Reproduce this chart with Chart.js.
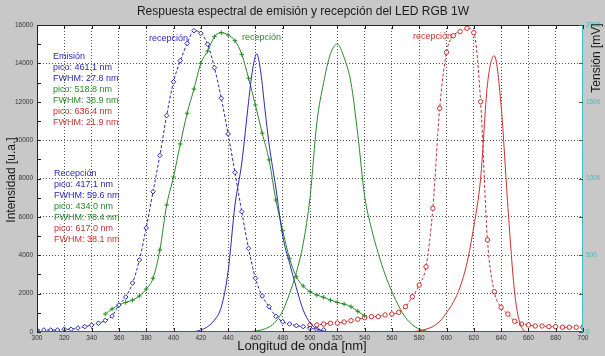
<!DOCTYPE html>
<html>
<head>
<meta charset="utf-8">
<script src="https://cdn.jsdelivr.net/npm/chart.js@4.4.1/dist/chart.umd.min.js"></script>
<style>
html, body { margin: 0; padding: 0; background: #c8c8c8; }
</style>
</head>
<body>
<canvas id="grafico" width="605" height="356"></canvas>
<script>
// --- datos ---
// recepcion: tension en mV (eje derecho)
var azulRecNm = [300,305,310,315,320,325,330,335,340,345,350,355,360,365,370,375,380,385,390,395,400,405,410,415,420,425,430,435,440,445,450,455,460,465,470,475,480,485,490,495,500,505,510];
var azulRecMv = [13,13,13,13,18,18,26,35,45,57,75,104,176,228,319,469,678,914,1150,1410,1630,1768,1880,1963,1946,1875,1722,1523,1290,1040,784,545,350,235,165,102,67,52,41,35,24,18,14];

var verdeRecNm = [350,355,360,365,370,375,380,385,390,395,400,405,410,415,420,425,430,435,440,445,450,455,460,465,470,475,480,485,490,495,500,505,510,515,520,525,530,535,540];
var verdeRecMv = [117,150,176,193,208,235,280,350,534,827,1010,1225,1425,1583,1750,1830,1924,1950,1935,1898,1809,1653,1479,1295,1121,860,660,480,360,300,263,241,226,208,193,182,165,135,106];

var rojoRecNm = [500,505,510,515,520,525,530,535,540,545,550,555,560,565,570,575,580,585,590,595,600,605,610,615,620,625,630,635,640,645,650,655,660,665,670,675,680,685,690,695,700];
var rojoRecMv = [46,46,52,57,58,65,74,83,93,100,100,111,117,128,165,230,306,425,806,1457,1822,1930,1957,1979,1950,1500,600,263,161,117,70,52,46,39,39,35,35,31,31,31,31];

// emision: intensidad u.a. (eje izquierdo)
var azulEmiNm = [300,410,415,420,425,430,435,440,445,450,455,458,461,464,467,470,475,480,485,490,495,500,505,510,520,700];
var azulEmiVal = [0,0,20,100,280,620,1300,3150,6600,8800,12000,13700,14500,13500,11600,9800,7500,5000,3600,2300,1150,480,160,50,0,0];

var verdeEmiNm = [300,450,460,465,470,475,480,485,490,495,500,505,510,515,520,525,530,535,540,545,550,555,560,565,570,575,580,585,590,700];
var verdeEmiVal = [0,0,50,120,260,550,1100,2000,3100,4600,7000,10900,13000,14500,15000,14300,13000,10300,7100,5400,4100,3000,2100,1350,750,380,150,50,0,0];

var rojoEmiNm = [300,570,580,585,590,595,600,605,610,615,620,625,630,635,640,645,650,655,660,700];
var rojoEmiVal = [0,0,60,150,280,550,1000,1550,2350,3600,5500,8000,12900,14400,11800,6500,2000,250,0,0];

var tituloGraf = 'Respuesta espectral de emisión y recepción del LED RGB 1W';

var AZUL = '#2a2ab4';
var VERDE = '#2a8a2a';
var ROJO = '#cc3030';
var CIAN = '#3cbcbc';

function pares(xs, ys) {
    return xs.map(function (x, i) { return {x: x, y: ys[i]}; });
}

function sinComa(v) {
    return String(v);
}

// textos dentro del grafico
var notas = [
    {t: 'Emisión', c: AZUL, x: 53, y: 57},
    {t: 'pico: 461.1 nm', c: AZUL, x: 53, y: 68},
    {t: 'FWHM: 27.8 nm', c: AZUL, x: 53, y: 79},
    {t: 'pico: 518.8 nm', c: VERDE, x: 53, y: 90},
    {t: 'FWHM: 38.9 nm', c: VERDE, x: 53, y: 101},
    {t: 'pico: 636.4 nm', c: ROJO, x: 53, y: 112},
    {t: 'FWHM: 21.9 nm', c: ROJO, x: 53, y: 123},
    {t: 'Recepción', c: AZUL, x: 54, y: 174},
    {t: 'pico: 417.1 nm', c: AZUL, x: 54, y: 185},
    {t: 'FWHM: 59.6 nm', c: AZUL, x: 54, y: 196},
    {t: 'pico: 434.0 nm', c: VERDE, x: 54, y: 207},
    {t: 'FWHM: 78.4 nm', c: VERDE, x: 54, y: 218},
    {t: 'pico: 617.0 nm', c: ROJO, x: 54, y: 229},
    {t: 'FWHM: 38.1 nm', c: ROJO, x: 54, y: 240},
    {t: 'recepción', c: AZUL, x: 149, y: 39},
    {t: 'recepción', c: VERDE, x: 242, y: 38},
    {t: 'recepción', c: ROJO, x: 413, y: 37}
];

var decorado = {
    id: 'decorado',
    beforeDraw: function (chart) {
        var ctx = chart.ctx, a = chart.chartArea;
        ctx.save();
        ctx.fillStyle = '#c8c8c8';
        ctx.fillRect(0, 0, chart.width, chart.height);
        ctx.fillStyle = '#ffffff';
        ctx.fillRect(a.left, a.top, a.right - a.left, a.bottom - a.top);
        ctx.restore();
    },
    afterDatasetsDraw: function (chart) {
        var ctx = chart.ctx, a = chart.chartArea;
        var sx = chart.scales.x, sy = chart.scales.y, sy1 = chart.scales.y1;
        ctx.save();
        // marco
        ctx.lineWidth = 1;
        ctx.strokeStyle = '#222';
        ctx.beginPath();
        ctx.moveTo(a.left + 0.5, a.bottom);
        ctx.lineTo(a.left + 0.5, a.top + 0.5);
        ctx.lineTo(a.right, a.top + 0.5);
        ctx.stroke();
        ctx.strokeStyle = '#b03030';
        ctx.beginPath();
        ctx.moveTo(a.left, a.bottom - 0.5);
        ctx.lineTo(a.right, a.bottom - 0.5);
        ctx.stroke();
        ctx.strokeStyle = CIAN;
        ctx.beginPath();
        ctx.moveTo(a.right - 0.5, a.top);
        ctx.lineTo(a.right - 0.5, a.bottom);
        ctx.stroke();
        // marcas de ticks
        ctx.strokeStyle = '#222';
        ctx.beginPath();
        sx.ticks.forEach(function (t) {
            var px = Math.round(sx.getPixelForValue(t.value)) + 0.5;
            ctx.moveTo(px, a.top); ctx.lineTo(px, a.top + 4);
            ctx.moveTo(px, a.bottom); ctx.lineTo(px, a.bottom - 4);
        });
        for (var v = 0; v <= 16000; v += 1000) {
            var py = Math.round(sy.getPixelForValue(v)) + 0.5;
            ctx.moveTo(a.left, py); ctx.lineTo(a.left + 4, py);
        }
        ctx.stroke();
        ctx.strokeStyle = '#555';
        ctx.beginPath();
        for (var m = 0; m <= 2000; m += 250) {
            var pm = Math.round(sy1.getPixelForValue(m)) + 0.5;
            ctx.moveTo(a.right, pm); ctx.lineTo(a.right - 4, pm);
        }
        ctx.stroke();

        // notas
        ctx.font = '9px "Liberation Sans", Arial, sans-serif';
        ctx.textBaseline = 'middle';
        ctx.textAlign = 'left';
        notas.forEach(function (n) {
            ctx.fillStyle = n.c;
            ctx.fillText(n.t, n.x, n.y);
        });
        ctx.restore();
    },
    afterDraw: function (chart) {
        var ctx = chart.ctx;
        ctx.save();
        ctx.fillStyle = '#1a1a1a';
        ctx.textAlign = 'center';
        ctx.textBaseline = 'middle';
        ctx.font = '12px "Liberation Sans", Arial, sans-serif';
        ctx.fillText(tituloGraf, 303, 12);
        ctx.font = '13px "Liberation Sans", Arial, sans-serif';
        ctx.fillText('Longitud de onda [nm]', 302, 346);
        ctx.translate(12, 180);
        ctx.rotate(-Math.PI / 2);
        ctx.font = '12px "Liberation Sans", Arial, sans-serif';
        ctx.fillText('Intensidad [u.a.]', 0, 0);
        ctx.restore();
        ctx.save();
        ctx.fillStyle = '#1a1a1a';
        ctx.textAlign = 'center';
        ctx.textBaseline = 'middle';
        ctx.translate(597, 58);
        ctx.rotate(-Math.PI / 2);
        ctx.font = '12px "Liberation Sans", Arial, sans-serif';
        ctx.fillText('Tensión [mV]', 0, 0);
        ctx.restore();
    }
};

var ctx = document.getElementById('grafico');
var grafico = new Chart(ctx, {
    type: 'line',
    data: {
        datasets: [
            {
                label: 'emision rojo',
                data: pares(rojoEmiNm, rojoEmiVal),
                yAxisID: 'y',
                borderColor: ROJO,
                borderWidth: 1,
                pointRadius: 0,
                cubicInterpolationMode: 'monotone'
            },
            {
                label: 'emision verde',
                data: pares(verdeEmiNm, verdeEmiVal),
                yAxisID: 'y',
                borderColor: VERDE,
                borderWidth: 1,
                pointRadius: 0,
                cubicInterpolationMode: 'monotone'
            },
            {
                label: 'emision azul',
                data: pares(azulEmiNm, azulEmiVal),
                yAxisID: 'y',
                borderColor: AZUL,
                borderWidth: 1,
                pointRadius: 0,
                cubicInterpolationMode: 'monotone'
            },
            {
                label: 'recepcion azul',
                data: pares(azulRecNm, azulRecMv),
                yAxisID: 'y1',
                borderColor: AZUL,
                borderWidth: 1,
                borderDash: [3, 2],
                pointStyle: 'rectRot',
                pointRadius: 2.3,
                pointBorderWidth: 1,
                pointBackgroundColor: '#ffffff',
                pointBorderColor: AZUL,
                cubicInterpolationMode: 'monotone'
            },
            {
                label: 'recepcion verde',
                data: pares(verdeRecNm, verdeRecMv),
                yAxisID: 'y1',
                borderColor: VERDE,
                borderWidth: 1,
                pointStyle: 'cross',
                pointRadius: 2.3,
                pointBorderWidth: 1,
                pointBorderColor: VERDE,
                cubicInterpolationMode: 'monotone'
            },
            {
                label: 'recepcion rojo',
                data: pares(rojoRecNm, rojoRecMv),
                yAxisID: 'y1',
                borderColor: ROJO,
                borderWidth: 1,
                borderDash: [3, 2],
                pointStyle: 'circle',
                pointRadius: 2.2,
                pointBorderWidth: 1,
                pointBackgroundColor: '#ffffff',
                pointBorderColor: ROJO,
                cubicInterpolationMode: 'monotone'
            }
        ]
    },
    options: {
        responsive: false,
        animation: false,
        layout: { padding: { top: 25, left: 0, right: 0, bottom: 0 } },
        plugins: {
            legend: { display: false },
            tooltip: { enabled: false }
        },
        scales: {
            x: {
                type: 'linear',
                min: 300,
                max: 700,
                ticks: {
                    stepSize: 20,
                    padding: 2,
                    maxRotation: 0,
                    autoSkip: false,
                    color: '#333',
                    callback: sinComa,
                    font: { size: 6.5, family: '"Liberation Sans", Arial, sans-serif' }
                },
                grid: {
                    color: function (c) {
                        return (c.tick.value === 300 || c.tick.value === 700) ? 'rgba(0,0,0,0)' : '#555';
                    },
                    drawTicks: false
                },
                border: { display: false, dash: [1, 2] },
                afterFit: function (s) { s.height = 24; }
            },
            y: {
                position: 'left',
                min: 0,
                max: 16000,
                ticks: {
                    stepSize: 2000,
                    padding: 4,
                    color: '#333',
                    callback: sinComa,
                    font: { size: 6.5, family: '"Liberation Sans", Arial, sans-serif' }
                },
                grid: {
                    color: function (c) {
                        var v = c.tick.value;
                        return (v === 0 || v === 16000 || v === 12000) ? 'rgba(0,0,0,0)' : '#555';
                    },
                    drawTicks: false
                },
                border: { display: false, dash: [1, 2] },
                afterFit: function (s) { s.width = 37; }
            },
            y1: {
                position: 'right',
                min: 0,
                max: 2000,
                ticks: {
                    stepSize: 500,
                    padding: 3,
                    color: CIAN,
                    callback: sinComa,
                    font: { size: 6.5, family: '"Liberation Sans", Arial, sans-serif' }
                },
                grid: { display: false, drawTicks: false },
                border: { display: false },
                afterFit: function (s) { s.width = 22; }
            }
        }
    },
    plugins: [decorado]
});
</script>
</body>
</html>
